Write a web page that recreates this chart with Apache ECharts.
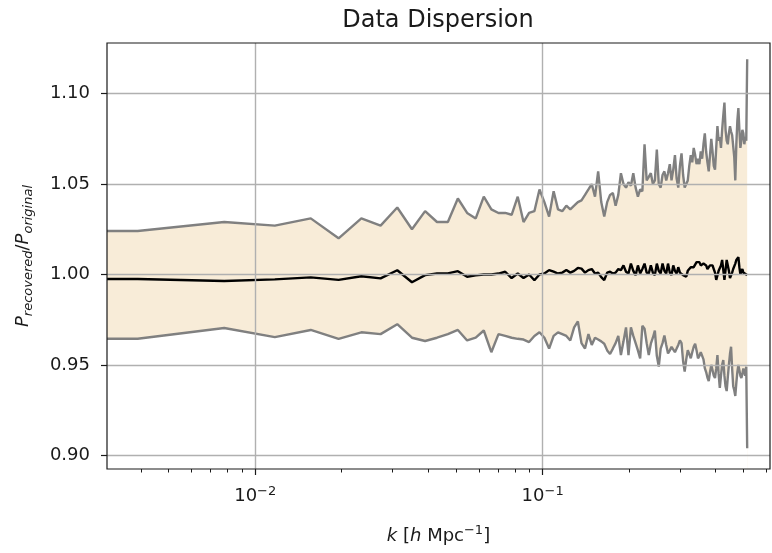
<!DOCTYPE html>
<html><head><meta charset="utf-8">
<script src="https://cdn.jsdelivr.net/npm/echarts@6/dist/echarts.min.js"></script>
<style>html,body{margin:0;padding:0;background:#fff}#c{width:772px;height:553px}</style>
</head><body><div id="c"></div>
<script>
// k values [h/Mpc] (linear binning, first point at the left axis edge)
const kValues = [0.00305,
0.0039,0.0078,0.0117,0.0156,0.0195,0.0234,0.0273,0.0312,0.0351,0.039,
0.0429,0.0468,0.0507,0.0546,0.0585,0.0624,0.0663,0.0702,0.0741,0.078,
0.0819,0.0858,0.0897,0.0936,0.0975,0.1014,0.1053,0.1092,0.1131,0.117,
0.1209,0.1248,0.1287,0.1326,0.1365,0.1404,0.1443,0.1482,0.1521,0.156,
0.1599,0.1638,0.1677,0.1716,0.1755,0.1794,0.1833,0.1872,0.1911,0.195,
0.1989,0.2028,0.2067,0.2106,0.2145,0.2184,0.2223,0.2262,0.2301,0.234,
0.2379,0.2418,0.2457,0.2496,0.2535,0.2574,0.2613,0.2652,0.2691,0.273,
0.2769,0.2808,0.2847,0.2886,0.2925,0.2964,0.3003,0.3042,0.3081,0.312,
0.3159,0.3198,0.3237,0.3276,0.3315,0.3354,0.3393,0.3432,0.3471,0.351,
0.3549,0.3588,0.3627,0.3666,0.3705,0.3744,0.3783,0.3822,0.3861,0.39,
0.3939,0.3978,0.4017,0.4056,0.4095,0.4134,0.4173,0.4212,0.4251,0.429,
0.4329,0.4368,0.4407,0.4446,0.4485,0.4524,0.4563,0.4602,0.4641,0.468,
0.4719,0.4758,0.4797,0.4836,0.4875,0.4914,0.4953,0.4992,0.5031,0.507,
0.5109,0.5148];

const upperValues = [1.024,
1.024,1.029,1.027,1.031,1.020,1.031,1.027,1.037,1.025,1.035,
1.029,1.029,1.042,1.034,1.031,1.043,1.036,1.034,1.034,1.033,
1.043,1.029,1.034,1.035,1.047,1.040,1.032,1.046,1.036,1.035,
1.038,1.036,1.038,1.040,1.041,1.044,1.047,1.050,1.043,1.057,
1.040,1.032,1.040,1.044,1.045,1.038,1.044,1.056,1.050,1.048,
1.051,1.049,1.056,1.048,1.043,1.047,1.046,1.072,1.052,1.054,
1.056,1.050,1.052,1.069,1.050,1.048,1.055,1.057,1.052,1.056,
1.061,1.052,1.058,1.066,1.053,1.048,1.060,1.067,1.055,1.048,
1.050,1.052,1.060,1.066,1.062,1.070,1.066,1.061,1.064,1.061,
1.068,1.064,1.072,1.078,1.068,1.062,1.057,1.066,1.075,1.068,
1.060,1.058,1.070,1.082,1.074,1.076,1.070,1.080,1.088,1.095,
1.080,1.074,1.072,1.078,1.082,1.079,1.077,1.076,1.065,1.052,
1.072,1.085,1.092,1.080,1.070,1.074,1.080,1.078,1.072,1.076,
1.074,1.119];

const lowerValues = [0.9644,
0.9644,0.9704,0.9653,0.9693,0.9644,0.968,0.967,0.9725,0.965,0.9632,
0.965,0.967,0.9693,0.9635,0.965,0.969,0.957,0.967,0.966,0.965,
0.9644,0.964,0.9626,0.966,0.968,0.965,0.959,0.966,0.968,0.967,
0.966,0.9635,0.9707,0.974,0.962,0.959,0.967,0.961,0.965,0.964,
0.963,0.9617,0.958,0.956,0.959,0.962,0.966,0.9554,0.963,0.9707,
0.9554,0.9707,0.966,0.962,0.958,0.9536,0.9716,0.970,0.962,0.9554,
0.9617,0.965,0.9689,0.955,0.949,0.959,0.962,0.9662,0.961,0.9563,
0.958,0.960,0.959,0.957,0.959,0.961,0.9635,0.962,0.952,0.9463,
0.953,0.9581,0.956,0.9536,0.957,0.960,0.9617,0.958,0.9536,0.955,
0.957,0.9572,0.953,0.9482,0.946,0.943,0.941,0.946,0.950,0.947,
0.944,0.9427,0.948,0.9554,0.945,0.9373,0.944,0.950,0.9527,0.944,
0.938,0.9355,0.943,0.950,0.956,0.960,0.948,0.9382,0.936,0.9328,
0.940,0.946,0.950,0.947,0.944,0.9427,0.945,0.948,0.9472,0.944,
0.949,0.9039];

const meanValues = [0.9975,
0.9975,0.9964,0.9973,0.9984,0.997,0.999,0.9978,1.0023,0.9957,0.9996,
1.0005,1.0006,1.0018,0.9987,0.9995,1.000,1.000,1.0005,1.0015,0.998,
1.0005,0.998,1.000,0.9968,1.000,1.0005,1.0024,1.0015,1.0005,1.001,
1.0024,1.001,1.002,1.0036,1.0032,1.001,1.0024,1.003,1.0005,1.001,
0.9985,0.9969,1.001,1.0015,1.0005,1.001,1.003,1.0024,1.005,1.0015,
1.0005,1.006,1.002,0.9996,1.005,1.0005,1.003,1.006,1.001,1.0005,
1.005,1.001,0.9996,1.006,1.002,1.0005,1.006,1.002,1.0005,1.006,
1.001,0.9996,1.005,1.002,1.0005,1.004,1.001,1.000,0.9996,0.9987,
0.9987,1.002,1.0024,1.004,1.005,1.004,1.005,1.0068,1.006,1.0068,
1.005,1.006,1.006,1.0068,1.005,1.003,1.004,1.005,1.004,1.005,
1.003,1.001,0.997,0.998,1.002,1.0024,1.005,1.008,1.0087,0.997,
0.998,1.008,1.0087,1.002,0.998,0.9978,1.001,1.003,1.002,1.006,
1.008,1.009,1.0096,1.004,1.000,0.9996,1.003,1.001,1.0015,1.0015,
1.000,0.9996];

const yTickValues = [0.90, 0.95, 1.00, 1.05, 1.10];
const xMajorTicks = [0.01, 0.1];
const xMajorExponents = ['\u22122', '\u22121'];
const xMinorTicks = [0.004,0.005,0.006,0.007,0.008,0.009,0.02,0.03,0.04,0.05,0.06,0.07,0.08,0.09,0.2,0.3,0.4,0.5,0.6];

const X_MIN = 0.00305, X_MAX = 0.618, Y_MIN = 0.8924, Y_MAX = 1.128;
const FONT = 'DejaVu Sans';
const INK = '#1a1a1a';

const chart = echarts.init(document.getElementById('c'), null, {renderer: 'canvas'});
const pair = arr => kValues.map((k, i) => [k, arr[i]]);

const option = {
  animation: false,
  backgroundColor: '#ffffff',
  textStyle: {fontFamily: FONT},
  title: {
    text: 'Data Dispersion', left: 438, top: 9, textAlign: 'center', padding: 0,
    textStyle: {fontFamily: FONT, fontSize: 24, fontWeight: 'normal', color: INK}
  },
  grid: {left: 107, right: 2, top: 43, bottom: 75, show: true, z: 10, borderColor: INK, borderWidth: 1.2, backgroundColor: 'transparent'},
  xAxis: [{
    type: 'log', logBase: 10, min: X_MIN, max: X_MAX, position: 'bottom',
    axisLine: {show: false},
    splitLine: {show: false},
    minorTick: {show: false},
    axisTick: {show: true, length: 6, customValues: xMajorTicks, lineStyle: {color: INK, width: 1.2}},
    axisLabel: {
      show: true, margin: 16, customValues: xMajorTicks, color: INK,
      formatter: v => {
        const i = xMajorTicks.findIndex(t => Math.abs(t - v) / t < 1e-6);
        return '{b|10}{s|' + (i >= 0 ? xMajorExponents[i] : '') + '}';
      },
      rich: {
        b: {fontFamily: FONT, fontSize: 18, lineHeight: 22, color: INK},
        s: {fontFamily: FONT, fontSize: 13, lineHeight: 13, verticalAlign: 'top', color: INK}
      }
    },
    name: '{i|k} [{i|h} Mpc{s|\u22121}]',
    nameLocation: 'middle', nameGap: 55,
    nameTextStyle: {
      color: INK,
      rich: {
        i: {fontFamily: FONT, fontSize: 18, fontStyle: 'italic', lineHeight: 24, color: INK},
        s: {fontFamily: FONT, fontSize: 13, lineHeight: 13, verticalAlign: 'top', color: INK}
      },
      fontFamily: FONT, fontSize: 18, lineHeight: 24
    }
  }, {
    type: 'log', logBase: 10, min: X_MIN, max: X_MAX, position: 'bottom',
    axisLine: {show: false}, splitLine: {show: false}, axisLabel: {show: false},
    axisTick: {show: true, length: 3.5, customValues: xMinorTicks, lineStyle: {color: INK, width: 1}}
  }],
  yAxis: {
    type: 'value', min: Y_MIN, max: Y_MAX,
    axisLine: {show: false},
    splitLine: {show: false},
    axisTick: {show: true, length: 6, customValues: yTickValues, lineStyle: {color: INK, width: 1.2}},
    axisLabel: {
      show: true, margin: 17, customValues: yTickValues, color: INK,
      fontFamily: FONT, fontSize: 18,
      formatter: v => v.toFixed(2)
    },
    name: '{p|P}{s|recovered}{q|/}{p|P}{s|original}',
    nameLocation: 'middle', nameRotate: 90, nameGap: 72,
    nameTextStyle: {
      color: INK,
      rich: {
        p: {fontFamily: FONT, fontSize: 18, fontStyle: 'italic', lineHeight: 24, color: INK},
        q: {fontFamily: FONT, fontSize: 18, lineHeight: 24, color: INK},
        s: {fontFamily: FONT, fontSize: 13, fontStyle: 'italic', lineHeight: 13, verticalAlign: 'bottom', color: INK}
      }
    }
  },
  series: [
    {
      // tan fill from the upper curve down to the bottom of the plot
      name: 'bandTop', type: 'line', xAxisIndex: 0, data: pair(upperValues),
      symbol: 'none', lineStyle: {width: 0, color: '#f8ecd8'}, itemStyle: {color: '#f8ecd8'},
      areaStyle: {color: '#f8ecd8', opacity: 1, origin: 'start'}, silent: true, z: 1
    },
    {
      // white fill below the lower curve, leaving the band between the curves
      name: 'bandBottom', type: 'line', xAxisIndex: 0, data: pair(lowerValues),
      symbol: 'none', lineStyle: {width: 0, color: '#ffffff'}, itemStyle: {color: '#ffffff'},
      areaStyle: {color: '#ffffff', opacity: 1, origin: 'start'}, silent: true, z: 1
    },
    {
      name: 'grid', type: 'line', xAxisIndex: 0, data: pair(meanValues), symbol: 'none',
      lineStyle: {opacity: 0}, silent: true, z: 2,
      markLine: {
        silent: true, symbol: ['none', 'none'], label: {show: false}, animation: false,
        lineStyle: {color: '#b0b0b0', width: 1.4, type: 'solid'},
        emphasis: {disabled: true},
        data: yTickValues.map(v => ({yAxis: v})).concat(xMajorTicks.map(v => ({xAxis: v})))
      }
    },
    {
      name: 'upper', type: 'line', xAxisIndex: 0, data: pair(upperValues), symbol: 'none',
      lineStyle: {color: '#808080', width: 2.4}, silent: true, z: 3
    },
    {
      name: 'lower', type: 'line', xAxisIndex: 0, data: pair(lowerValues), symbol: 'none',
      lineStyle: {color: '#808080', width: 2.4}, silent: true, z: 3
    },
    {
      name: 'mean', type: 'line', xAxisIndex: 0, data: pair(meanValues), symbol: 'none',
      lineStyle: {color: '#000000', width: 2.4}, silent: true, z: 4
    }
  ]
};
chart.setOption(option);
</script>
</body></html>
